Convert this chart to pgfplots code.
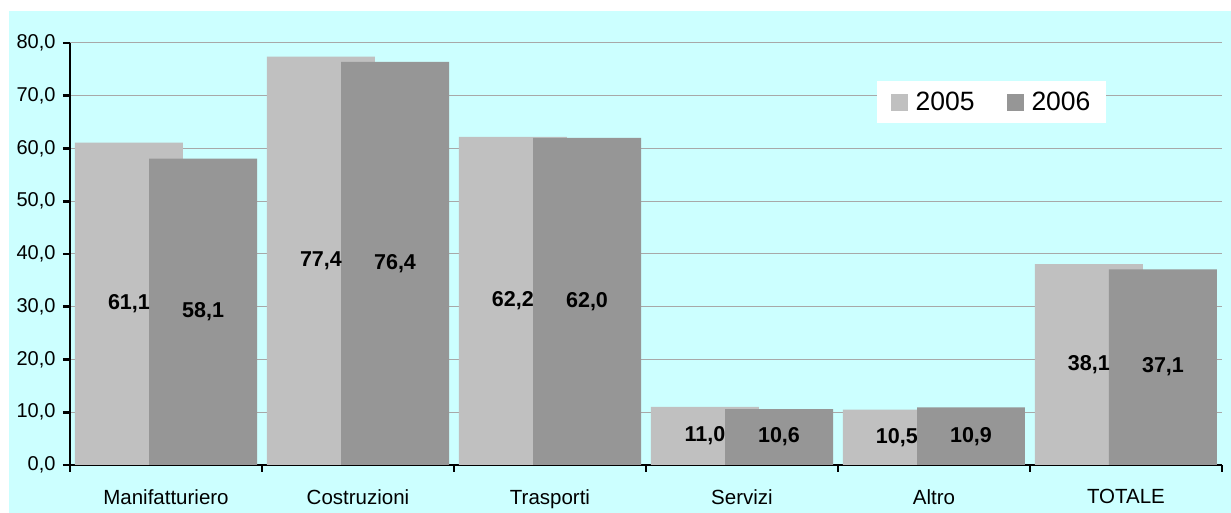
\documentclass[border=0pt]{standalone}
\usepackage{fontspec}
\setmainfont{Liberation Sans}
\usepackage{pgfplots}
\pgfplotsset{compat=1.18}
\usepackage{pgfplotstable}
\definecolor{bgc}{HTML}{CCFFFF}
\definecolor{cA}{HTML}{C0C0C0}
\definecolor{cB}{HTML}{969696}
\definecolor{gridc}{HTML}{A8A8A8}
\pgfplotstableread{
x a b
0 61.1 58.1
1 77.4 76.4
2 62.2 62.0
3 11.0 10.6
4 10.5 10.9
5 38.1 37.1
}\data
\begin{document}
\begin{tikzpicture}
\useasboundingbox (-70pt,-48pt) rectangle (1161pt,465pt);
\fill[bgc] (-61pt,-48pt) rectangle (1161pt,454pt);
\begin{axis}[
  at={(0pt,0pt)}, anchor=south west,
  scale only axis, width=1152pt, height=422pt,
  xmin=-0.5, xmax=5.5, ymin=0, ymax=80,
  axis x line=bottom, axis y line=left,
  axis line style={-, line width=2.6pt, black},
  xtick={-0.5,0.5,...,5.5},
  x tick label as interval,
  xticklabels={Manifatturiero,Costruzioni,Trasporti,Servizi,Altro,TOTALE},
  ytick={0,10,...,80},
  tick align=outside,
  major tick length=7pt,
  tick style={black, line width=2.6pt},
  ymajorgrids, grid style={gridc, line width=1pt},
  /pgf/number format/assume math mode=true,
  yticklabel style={font=\fontsize{20}{22}\selectfont, xshift=-4pt, /pgf/number format/.cd, fixed, fixed zerofill, precision=1, use comma},
  xticklabel style={font=\fontsize{20.5}{24}\selectfont, yshift=-14pt},
  legend style={at={(0.700,0.91)}, anchor=north west, draw=none, fill=white,
    font=\fontsize{26.5}{30}\selectfont, inner xsep=14pt, inner ysep=9pt,
    /tikz/every odd column/.append style={column sep=6pt},
    /tikz/every even column/.append style={column sep=30pt}},
  legend columns=2,
  legend image code/.code={\fill[#1] (0pt,-8.5pt) rectangle (17pt,8.5pt);},
  clip=false,
]
\addplot[ybar, bar width=0.5625, bar shift=-0.193, fill=cA, draw=none] table[x=x, y=a] {\data};
\addlegendentry{2005}
\addplot[ybar, bar width=0.5625, bar shift=0.193, fill=cB, draw=none] table[x=x, y=b] {\data};
\addlegendentry{2006}
\addplot[forget plot, only marks, mark=none, point meta=explicit,
  nodes near coords, nodes near coords style={anchor=center, text=black, font=\fontsize{21.5}{24}\selectfont\bfseries,
  /pgf/number format/.cd, fixed, fixed zerofill, precision=1, use comma, assume math mode=true}]
  table[x expr=\thisrow{x}-0.193, y expr=\thisrow{a}/2, meta=a] {\data};
\addplot[forget plot, only marks, mark=none, point meta=explicit,
  nodes near coords, nodes near coords style={anchor=center, text=black, font=\fontsize{21.5}{24}\selectfont\bfseries,
  /pgf/number format/.cd, fixed, fixed zerofill, precision=1, use comma, assume math mode=true}]
  table[x expr=\thisrow{x}+0.193, y expr=\thisrow{b}/2, meta=b] {\data};
\end{axis}
\end{tikzpicture}
\end{document}
